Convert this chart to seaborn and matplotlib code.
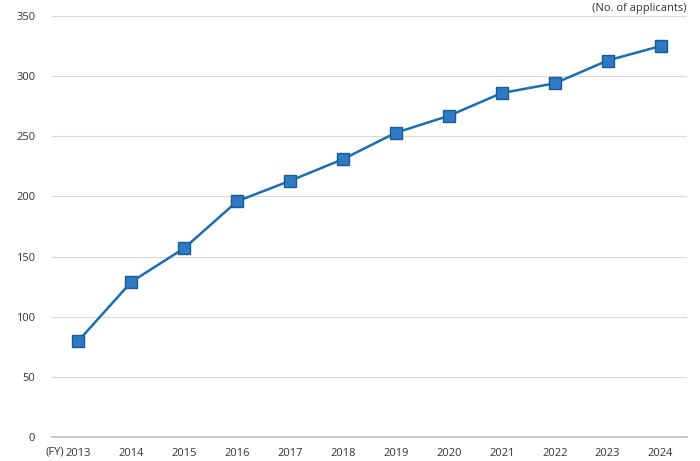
import matplotlib
matplotlib.use("Agg")
import matplotlib.pyplot as plt
import seaborn as sns
import pandas as pd
import numpy as np

years = ["2013","2014","2015","2016","2017","2018","2019","2020","2021","2022","2023","2024"]
applicants = [80,129,157,196,213,231,253,267,286,294,313,325]

sns.set_theme(style="white")
plt.rcParams['font.family'] = ['Open Sans', 'DejaVu Sans']

df = pd.DataFrame({"year": years, "n": applicants})
fig = plt.figure(figsize=(7, 4.61), dpi=100)
ax = fig.add_axes([52/700, 24/461, 635/700, 421/461])
sns.lineplot(data=df, x="year", y="n", ax=ax, color="#1b6db5", linewidth=1.8,
             marker="s", markersize=8.5, markerfacecolor="#2f7ac4",
             markeredgecolor="#1a5a96", markeredgewidth=1, sort=False)
ax.set_xlim(-0.5, 11.5)
ax.set_ylim(0, 350)
ax.set_yticks(range(0, 351, 50))
ax.yaxis.grid(True, color="#d9d9d9", linewidth=0.8)
ax.set_axisbelow(True)
for s in ["top", "right", "left"]:
    ax.spines[s].set_visible(False)
ax.spines["bottom"].set_color("#bfbfbf")
ax.set_xlabel(""); ax.set_ylabel("")
ax.tick_params(axis="both", labelsize=8, colors="#333333", length=0)
ax.set_xticks(np.arange(12))
ax.set_xticks(np.arange(-0.5, 12, 1), minor=True)
ax.tick_params(axis="x", which="minor", length=4, color="#bfbfbf")
ax.tick_params(axis="x", which="major", pad=8)
ax.tick_params(axis="y", pad=12)
fig.text(46/700, 1 - 452/461, "(FY)", fontsize=8, color="#333333", ha="left", va="center")
ax.text(1.0, 1.005, "(No. of applicants)", transform=ax.transAxes, fontsize=8,
        color="#333333", ha="right", va="bottom")
fig.savefig("out.png", dpi=100)
